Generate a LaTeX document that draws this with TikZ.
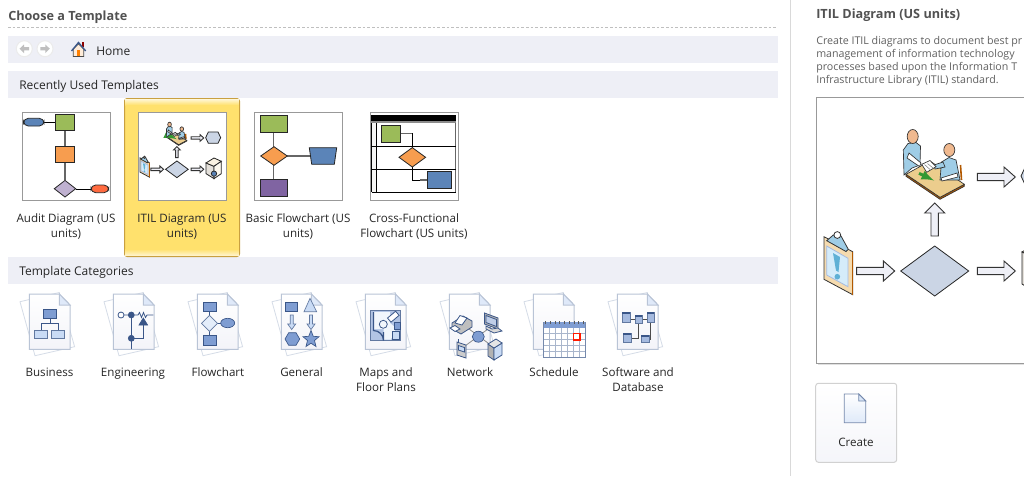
\documentclass[tikz,border=0pt]{standalone}
\usepackage{fontspec}
\setmainfont{Open Sans}
\definecolor{bandcol}{HTML}{EEEFF6}
\definecolor{selcol}{HTML}{FFE16D}
\definecolor{selline}{HTML}{C9A040}
\definecolor{pagecol}{HTML}{B9C4D6}
\definecolor{navycol}{HTML}{3A5688}
\definecolor{midblue}{HTML}{7F9DD2}
\definecolor{lightblue}{HTML}{C9DBF5}
\definecolor{slatecol}{HTML}{CBD5E5}
\definecolor{greencol}{HTML}{9BBB59}
\definecolor{orangecol}{HTML}{F79D4F}
\definecolor{bluecol}{HTML}{5B84B8}
\definecolor{purplecol}{HTML}{8064A2}
\definecolor{tablecol}{HTML}{ECCD8D}
\definecolor{skincol}{HTML}{F0B98F}
\definecolor{shirtcol}{HTML}{9FCDE6}
\definecolor{boardcol}{HTML}{F5DBAF}
\definecolor{papercol}{HTML}{D5ECFA}
\definecolor{markcol}{HTML}{5FB0D5}
\definecolor{gridcol}{HTML}{A9B6CC}
\tikzset{
  band/.style={fill=bandcol,draw=none},
  thumbbox/.style={draw=black!40,fill=white,line width=0.75pt},
  headlbl/.style={anchor=base west,inner sep=0pt,font=\fontsize{9}{10}\selectfont,text=black!85},
  boldlbl/.style={anchor=base west,inner sep=0pt,font=\fontsize{9.5}{10}\selectfont\bfseries,text=black!68},
  desclbl/.style={anchor=base west,inner sep=0pt,font=\fontsize{8}{10}\selectfont,text=black!62},
  tpllbl/.style={anchor=center,inner sep=0pt,align=center,font=\fontsize{8.7}{11.25}\selectfont,text=black!85},
  tplone/.style={anchor=base,inner sep=0pt,font=\fontsize{8.7}{11.25}\selectfont,text=black!85},
  flowshape/.style={draw=black!85,line width=0.6pt},
  flowlink/.style={draw=black!60,line width=1pt},
  thinlink/.style={draw=black,line width=0.5pt},
  icon/.style={draw=navycol,fill=midblue,line width=0.5pt},
  iconlight/.style={draw=navycol!80,fill=lightblue,line width=0.5pt},
  iconline/.style={draw=navycol,line width=0.6pt},
  blockarrow/.style={draw=black!80,fill=bandcol,line width=0.7pt},
}
% page with a second sheet behind it
\newcommand{\docpage}[1]{%
  \begin{scope}[shift={(#1,294)}]
  \draw[pagecol!60,fill=white,line width=0.6pt] (-9.3,7.7) -- (30,-1.5) -- (45.3,52.7) -- (5.7,61.7) -- cycle ;
  \draw[pagecol,top color=white,bottom color=bandcol!70,line width=0.75pt] (0,0) -- (30,0) -- (40.7,11) -- (40.7,55.3) -- (0,55.3) -- cycle ;
  \draw[pagecol,fill=lightblue!60,line width=0.75pt] (30,0) -- (30,11) -- (40.7,11) -- cycle ;
  \end{scope}}
\newcommand{\rightblock}[2]{%
  \draw[blockarrow] (#1,#2-3.7) -- (#1+26.7,#2-3.7) -- (#1+26.7,#2-10) -- (#1+38,#2) -- (#1+26.7,#2+10) -- (#1+26.7,#2+3.7) -- (#1,#2+3.7) -- cycle ;}
% the ITIL picture, in the thumbnail and in the preview
\newcommand{\itilart}{%
  %Shape: Clipboard
  \draw[black!80,fill=boardcol,line width=0.6pt] (824,236.7) -- (852.7,251.7) -- (852.7,294.7) -- (824,279.3) -- cycle ;
  \draw[orange!70!black,line width=0.9pt] (852.7,251.7) -- (852.7,294.7) ;
  \draw[midblue!70,fill=papercol,line width=0.6pt] (826.7,246) -- (848,258.3) -- (848,286.7) -- (826.7,275) -- cycle ;
  \fill[markcol] (833,253) -- (840,257) -- (838.5,272) -- (836,270.5) -- cycle ;
  \fill[markcol] (837.3,276.7) circle (2.8) ;
  \draw[black!80,fill=shirtcol,line width=0.6pt] (826.7,240.7) -- (833.3,235) -- (841,236) -- (848.3,249.3) -- (846,251.5) -- cycle ;
  \draw[black!80,fill=white,line width=0.6pt] (837.3,235) circle (3.4) ;
  %Shape: Table
  \draw[black!80,fill=orange!70!black,line width=0.5pt] (906,174.3) -- (906,176.3) -- (940,199.3) -- (964.3,186.3) -- (964.3,184.3) -- (940,197.3) -- cycle ;
  \draw[black!80,fill=tablecol,line width=0.5pt] (906,174.3) -- (930,161) -- (964.3,184.3) -- (940,197.3) -- cycle ;
  \draw[green!50!black!80,line width=2.2pt,-latex] (919,173.3) -- (934,180.5) ;
  %Shape: Chair and person right
  \draw[orange!70!black,line width=1.2pt] (960.5,165) -- (961.5,180) ;
  \draw[black!80,fill=shirtcol,line width=0.5pt] (940,180) -- (941.5,162) -- (949,157.5) -- (956,160) -- (960,180) -- cycle ;
  \draw[black!80,fill=skincol,line width=0.5pt] (949.3,150) ellipse (5.5 and 6.5) ;
  \draw[black!80,fill=white,line width=0.5pt] (957,173) -- (941,178) -- (942,181) -- (958,177) -- cycle ;
  \draw[black!80,fill=shirtcol,line width=0.5pt] (934,165) -- (943,162) -- (945,167) -- (935,169) -- cycle ;
  %Shape: Person left
  \draw[black!80,fill=shirtcol,line width=0.5pt] (904,175) -- (903.3,150) -- (908,143.5) -- (916,142.5) -- (920.5,146) -- (920,165) -- (912,168) -- cycle ;
  \draw[black!80,fill=skincol,line width=0.5pt] (912.7,136.5) ellipse (5.5 and 7) ;
  \draw[black!80,fill=white,line width=0.5pt] (909,153) -- (921,163) -- (919.5,166.5) -- (907,158) -- cycle ;
  %Shape: Paper
  \draw[black!80,fill=white,line width=0.5pt] (921.7,164.3) -- (930,160.5) -- (936,166.7) -- (926.7,172.3) -- cycle ;
  \draw[black!50,line width=0.4pt] (924.5,164.5) -- (930,169.5) (927.5,163.5) -- (933,168) ;
  %Shape: Arrows
  \rightblock{977.3}{177}
  \rightblock{856.7}{271}
  \rightblock{977.3}{271}
  \draw[blockarrow] (931,236) -- (931,213) -- (924.7,213) -- (934.7,203) -- (944.7,213) -- (938.4,213) -- (938.4,236) -- cycle ;
  %Shape: Diamond and hexagon
  \draw[flowshape,fill=slatecol] (900.7,271) -- (934.7,246) -- (968.7,271) -- (934.7,296) -- cycle ;
  \draw[flowshape,fill=slatecol] (1021,176) -- (1029,159) -- (1058,159) -- (1066,176) -- (1058,193) -- (1029,193) -- cycle ;
  %Shape: Server
  \draw[flowshape,fill=tablecol!50!black!20] (1022,252) -- (1046,262) -- (1046,299) -- (1022,284) -- cycle ;
  \draw[flowshape,fill=tablecol!25] (1022,252) -- (1046,237) -- (1068,247) -- (1046,262) -- cycle ;
  \draw[flowshape,fill=tablecol!15] (1046,262) -- (1068,247) -- (1068,284) -- (1046,299) -- cycle ;
  \draw[flowshape,fill=bluecol] (1046,284) ellipse (8 and 8) ;}

\begin{document}
\begin{tikzpicture}[x=0.75pt,y=0.75pt,yscale=-1,xscale=1]
\useasboundingbox (0,0) rectangle (1024,476);
\clip (0,0) rectangle (1024,476);
\fill[white] (0,0) rectangle (1024,476);

%Straight Lines
\draw[black!25,dash pattern=on 2pt off 1.5pt,line width=0.75pt] (8,27.5) -- (778,27.5) ;
\draw[black!15,line width=0.75pt] (790.5,0) -- (790.5,476) ;
%Shape: Rectangle
\draw[band] (8,36) rectangle (778,63) ;
\draw[band] (8,71) rectangle (778,98) ;
\draw[band] (8,257) rectangle (778,284) ;

%Shape: Back and forward buttons
\draw[black!8,fill=white!97!bandcol,line width=0.75pt] (24.3,48.7) circle (8) ;
\draw[black!8,fill=white!97!bandcol,line width=0.75pt] (45,48.7) circle (8) ;
\fill[black!25] (19.5,48.7) -- (24,44.5) -- (24,47) -- (29,47) -- (29,50.4) -- (24,50.4) -- (24,53) -- cycle ;
\fill[black!25] (49.8,48.7) -- (45.3,44.5) -- (45.3,47) -- (40.3,47) -- (40.3,50.4) -- (45.3,50.4) -- (45.3,53) -- cycle ;
%Shape: House
\fill[red!55!black] (81.5,42) rectangle (84,47) ;
\draw[black!70,fill=white!85!orange,line width=0.5pt] (73.3,49) -- (73.3,56.5) -- (83.7,56.5) -- (83.7,49) -- (78.5,44) -- cycle ;
\fill[orange] (76.8,50) rectangle (80.2,56.3) ;
\draw[navycol,line width=1pt] (71.5,51) -- (78.5,42.5) -- (85.7,51) ;

%Shape: Selected template
\draw[selline,fill=selcol,rounded corners=2,line width=0.75pt] (124.5,98.5) rectangle (239.5,256.5) ;
\shade[top color=white!70!selcol,bottom color=selcol] (125.2,99.2) rectangle (238.8,105) ;
\shade[top color=selcol,bottom color=white!70!selcol] (125.2,249) rectangle (238.8,255.8) ;

%Shape: Thumbnails
\draw[thumbbox] (22,112) rectangle (110,200) ;
\draw[thumbbox] (138,112) rectangle (226,200) ;
\draw[thumbbox] (254,112) rectangle (342,200) ;
\draw[thumbbox] (370,112) rectangle (458,200) ;

%Audit Diagram
\draw[thinlink] (44,122) -- (55.3,122) (75.7,189) -- (91,189) ;
\draw[flowlink] (65,130) -- (65,146.7) (65,162.3) -- (65,180.4) ;
\draw[flowshape,fill=bluecol,rounded corners=3.5] (23.6,118.3) rectangle (44,126) ;
\draw[flowshape,fill=greencol] (55.3,114.7) rectangle (74.7,130) ;
\draw[flowshape,fill=orangecol] (55.3,146.7) rectangle (74.7,162.3) ;
\draw[flowshape,fill=purplecol!50!white] (54.3,188.7) -- (65,180.4) -- (75.7,188.7) -- (65,197) -- cycle ;
\draw[flowshape,fill=red!55!orange!75,rounded corners=3.5] (91,185) rectangle (108.7,192.7) ;

%ITIL Diagram
\begin{scope}[shift={(140,169.3)},scale=0.3333,shift={(-824,-271)}]
\itilart
\end{scope}
\draw[thumbbox,fill=none] (138,112) rectangle (226,200) ;

%Basic Flowchart
\draw[flowlink] (273.8,132.3) -- (273.8,146.7) (273.8,165.3) -- (273.8,179.3) (287.3,156) -- (310,156) ;
\draw[flowshape,fill=greencol] (260,115.3) rectangle (287.7,132.3) ;
\draw[flowshape,fill=orangecol] (260.7,156) -- (274,146.7) -- (287.3,156) -- (274,165.3) -- cycle ;
\draw[flowshape,fill=bluecol] (309.3,147.7) -- (336.7,147.7) -- (334.3,164.3) -- (311.7,164.3) -- cycle ;
\draw[flowshape,fill=purplecol] (260,179.3) rectangle (287.7,196.7) ;

%Cross-Functional Flowchart
\fill[black] (371,115) rectangle (456,120.7) ;
\fill[black!45] (371,120.7) rectangle (456,123.3) ;
\fill[yellow!8!black!5] (371.7,123.3) rectangle (376.7,192.3) ;
\draw[black,line width=0.6pt] (371.7,123.3) -- (371.7,192.3) (376.7,123.3) -- (376.7,192.3) ;
\draw[black!60,line width=0.6pt] (455.7,123.3) -- (455.7,192.3) ;
\draw[black,line width=0.6pt] (371.7,146.3) -- (455.7,146.3) (371.7,169.3) -- (455.7,169.3) (371.7,192.3) -- (455.7,192.3) ;
\draw[black!60,line width=0.9pt] (400,133.3) -- (412.3,133.3) ;
\draw[black,line width=0.6pt] (412.3,133.3) -- (412.3,147.6) ;
\draw[black,line width=0.6pt] (412.3,167) -- (412.3,180) -- (420,180) ;
\draw[black!60,line width=0.9pt] (420,180) -- (427,180) ;
\draw[flowshape,fill=greencol] (381,125.3) rectangle (400,142.3) ;
\draw[flowshape,fill=orangecol] (399,157.3) -- (412.3,147.6) -- (425.6,157.3) -- (412.3,167) -- cycle ;
\draw[flowshape,fill=bluecol] (427,171) rectangle (451,188.7) ;

%Shape: Category pages
\foreach \pagex in {29.3,113.3,197.3,281.3,365.3,449.3,533.3,617.3} {
  \docpage{\pagex}
}

%Business
\draw[iconline] (50,318.7) -- (50,323.3) (41,330) -- (41,323.3) -- (58,323.3) -- (58,330) ;
\draw[icon] (43.3,309.3) rectangle (56.7,318.7) ;
\draw[iconlight] (34.3,330) rectangle (47.7,338.7) ;
\draw[iconlight] (51,330) rectangle (64.3,338.7) ;

%Engineering
\draw[iconline] (124,315) -- (128.3,315) (134.3,315) -- (138,315) -- (139.5,312.5) -- (141.5,317.5) -- (143.5,312.5) -- (145.5,317.5) -- (147,315) -- (153.3,315) ;
\draw[iconline] (131.3,315) -- (131.3,349) (131.3,338.3) -- (143.3,338.3) -- (143.3,325) ;
\draw[iconline,fill=white] (121,315) circle (3) ;
\draw[icon,fill=navycol] (131.3,315) circle (3) ;
\draw[icon,fill=navycol] (131.3,338.3) circle (3) ;
\draw[icon,fill=navycol] (139,325) -- (143.3,318) -- (147.6,325) -- cycle ;

%Flowchart
\draw[iconline] (209.5,311.7) -- (209.5,335) (217,323.3) -- (221,323.3) ;
\draw[icon] (203.3,302.3) rectangle (216,311.7) ;
\draw[iconlight,fill=lightblue!50] (201.5,323.3) -- (209.5,315.3) -- (217.5,323.3) -- (209.5,331.3) -- cycle ;
\draw[icon] (227.7,323) ellipse (7 and 4.7) ;
\draw[icon] (203.3,335) rectangle (216,345) ;

%General
\draw[icon] (285,302.3) rectangle (297.7,311.7) ;
\draw[iconlight] (304,311.7) -- (310,298.3) -- (316.7,311.7) -- cycle ;
\draw[iconlight] (290.2,315) -- (293.2,315) -- (293.2,324) -- (295.7,324) -- (291.7,329.5) -- (287.7,324) -- (290.2,324) -- cycle ;
\draw[iconlight] (309.5,315) -- (312.5,315) -- (312.5,324) -- (315,324) -- (311,329.5) -- (307,324) -- (309.5,324) -- cycle ;
\draw[icon] (285,339) -- (288.7,332.7) -- (296,332.7) -- (299.7,339) -- (296,345.3) -- (288.7,345.3) -- cycle ;
\draw[icon] (311,330.5) -- (313.3,336.3) -- (319,336.7) -- (314.5,340.5) -- (316,346.5) -- (311,343.2) -- (306,346.5) -- (307.5,340.5) -- (303,336.7) -- (308.7,336.3) -- cycle ;

%Maps and Floor Plans
\draw[iconlight,fill=midblue!60] (370.7,310.7) rectangle (400.7,340.7) ;
\fill[white!75!lightblue] (374,312) -- (390,312) -- (390,323) -- (396,328) -- (391,339.5) -- (383.5,339.5) -- (383.5,329) -- (374,329) -- cycle ;
\draw[iconline,line width=0.9pt] (373.5,312) -- (373.5,331) (373.5,330.5) arc (-90:0:10) (383.5,340.5) -- (383.5,332) ;
\draw[iconline] (383.3,324.3) circle (4) ;
\draw[iconline,fill=white,rotate around={-40:(393.3,316.7)}] (388,314) rectangle (398.6,319.4) ;
\draw[iconline,fill=lightblue] (392,331.5) rectangle (399,339) ;
\draw[icon] (394.5,322) rectangle (400.5,329) ;

%Network
\draw[black!45,line width=0.6pt] (465,326) -- (492,346) (492,326) -- (465,346) ;
\draw[icon] (478.3,336.7) ellipse (6 and 5.5) ;
% printer
\draw[iconline,fill=black!25] (452,323) -- (463,316) -- (472,321) -- (472,327) -- (461,334) -- (452,329) -- cycle ;
\draw[iconline,fill=white] (455,323) -- (460,315.5) -- (467,318) -- (462,325) -- cycle ;
\draw[iconline,fill=white] (450,328) -- (455,325.5) -- (460,329) -- (455,331.5) -- cycle ;
% monitor
\draw[iconline,fill=black!30] (484.5,313) -- (498,318) -- (498,329) -- (484.5,324) -- cycle ;
\draw[iconline,fill=midblue!50] (486,315.5) -- (496.5,319.5) -- (496.5,326.5) -- (486,322.5) -- cycle ;
\draw[iconline,fill=black!15] (486,326) -- (492,329) -- (498,328) -- (502,331) -- (494,333) -- (486,329) -- cycle ;
% phone
\draw[iconline,fill=black!20] (457,342) -- (466,345) -- (466,358) -- (457,355) -- cycle ;
\draw[iconline,fill=lightblue] (458.5,345.5) -- (464.5,347.5) -- (464.5,352) -- (458.5,350) -- cycle ;
\draw[iconline] (458.5,339) -- (458.5,342.5) ;
% server
\draw[iconline,fill=black!30] (488,344) -- (494,348) -- (494,360) -- (488,356) -- cycle ;
\draw[iconline,fill=lightblue] (494,348) -- (502,343) -- (502,355) -- (494,360) -- cycle ;
\draw[iconline,fill=black!10] (488,344) -- (496,339) -- (502,343) -- (494,348) -- cycle ;

%Schedule
\draw[gridcol,fill=white,line width=0.5pt] (543.3,322.3) rectangle (585.7,357.7) ;
\foreach \colx in {1,...,6} {
  \draw[gridcol,line width=0.6pt] (543.3+6.06*\colx,327.7) -- (543.3+6.06*\colx,357.7) ;
}
\foreach \rowy in {1,...,4} {
  \draw[gridcol,line width=0.6pt] (543.3,327.7+6*\rowy) -- (585.7,327.7+6*\rowy) ;
}
\fill[midblue] (543.3,322.3) rectangle (585.7,327.7) ;
\foreach \ringx in {0,...,8} {
  \draw[black!65,line width=0.6pt] (545.5+4.75*\ringx,321) -- (545.5+4.75*\ringx,324) ;
}
\draw[red!80!orange,line width=0.9pt] (573.5,333.5) rectangle (580,340) ;
\draw[navycol!70,line width=0.6pt] (543.3,322.3) -- (543.3,357.7) -- (585.7,357.7) -- (585.7,322.3) ;

%Software and Database
\draw[black!70,line width=0.6pt] (630,319) -- (635,319) (647,319) -- (642,319) (631,338) -- (638.5,338) -- (638.5,323.3) (649,339) -- (650.5,339) -- (650.5,322.7) ;
\foreach \boxl/\boxt/\boxr/\boxb in {622/312/630/322.7,635/315/642/323.3,647/312.3/654/322.7,623/333/631/342.7,641/335/649/342.7} {
  \draw[iconlight,fill=midblue!70] (\boxl,\boxt) rectangle (\boxr,\boxb) ;
  \fill[navycol] (\boxl,\boxt) rectangle (\boxr,\boxt+2) ;
}

%Shape: Preview
\fill[black!12] (818,360) rectangle (1030,365) ;
\draw[thumbbox] (816.5,97.5) rectangle (1030,363) ;
\begin{scope}
\itilart
\end{scope}

%Shape: Create button
\draw[black!18,top color=white,bottom color=bandcol!60,rounded corners=2,line width=0.75pt] (815.7,383.3) rectangle (896.7,462.3) ;
\draw[navycol!70,top color=white,bottom color=lightblue!60,line width=0.6pt] (844.3,394) -- (858.7,394) -- (865.7,401) -- (865.7,422.7) -- (844.3,422.7) -- cycle ;
\draw[navycol!70,fill=lightblue!70,line width=0.6pt] (858.7,394) -- (858.7,401) -- (865.7,401) -- cycle ;

% Text Node
\node[boldlbl] (choosetitle) at (8,20) {Choose a Template};
\node[headlbl] (hometext) at (96,55) {Home};
\node[headlbl] (recenttext) at (19,89.3) {Recently Used Templates};
\node[headlbl] (categorytext) at (19,275) {Template Categories};
\node[tpllbl] (audittext) at (66,226.5) {\strut Audit Diagram (US\\\strut units)};
\node[tpllbl] (itiltext) at (182,226.5) {\strut ITIL Diagram (US\\\strut units)};
\node[tpllbl] (basictext) at (298,226.5) {\strut Basic Flowchart (US\\\strut units)};
\node[tpllbl] (crosstext) at (414,226.5) {\strut Cross-Functional\\\strut Flowchart (US units)};
\node[tplone] (businesstext) at (49.5,376) {Business};
\node[tplone] (engineertext) at (133,376) {Engineering};
\node[tplone] (flowtext) at (218,376) {Flowchart};
\node[tplone] (generaltext) at (301.5,376) {General};
\node[tpllbl] (mapstext) at (386,380.5) {\strut Maps and\\\strut Floor Plans};
\node[tplone] (networktext) at (470,376) {Network};
\node[tplone] (scheduletext) at (554,376) {Schedule};
\node[tpllbl] (softwaretext) at (638,380.5) {\strut Software and\\\strut Database};
\node[boldlbl] (paneltitle) at (816,18.5) {ITIL Diagram (US units)};
\node[desclbl] (descone) at (816,44) {Create ITIL diagrams to document best pr};
\node[desclbl] (desctwo) at (816,57) {management of information technology};
\node[desclbl] (descthree) at (816,70) {processes based upon the Information T};
\node[desclbl] (descfour) at (816,83) {Infrastructure Library (ITIL) standard.};
\node[tplone] (createtext) at (856,446.7) {Create};

\end{tikzpicture}
\end{document}
